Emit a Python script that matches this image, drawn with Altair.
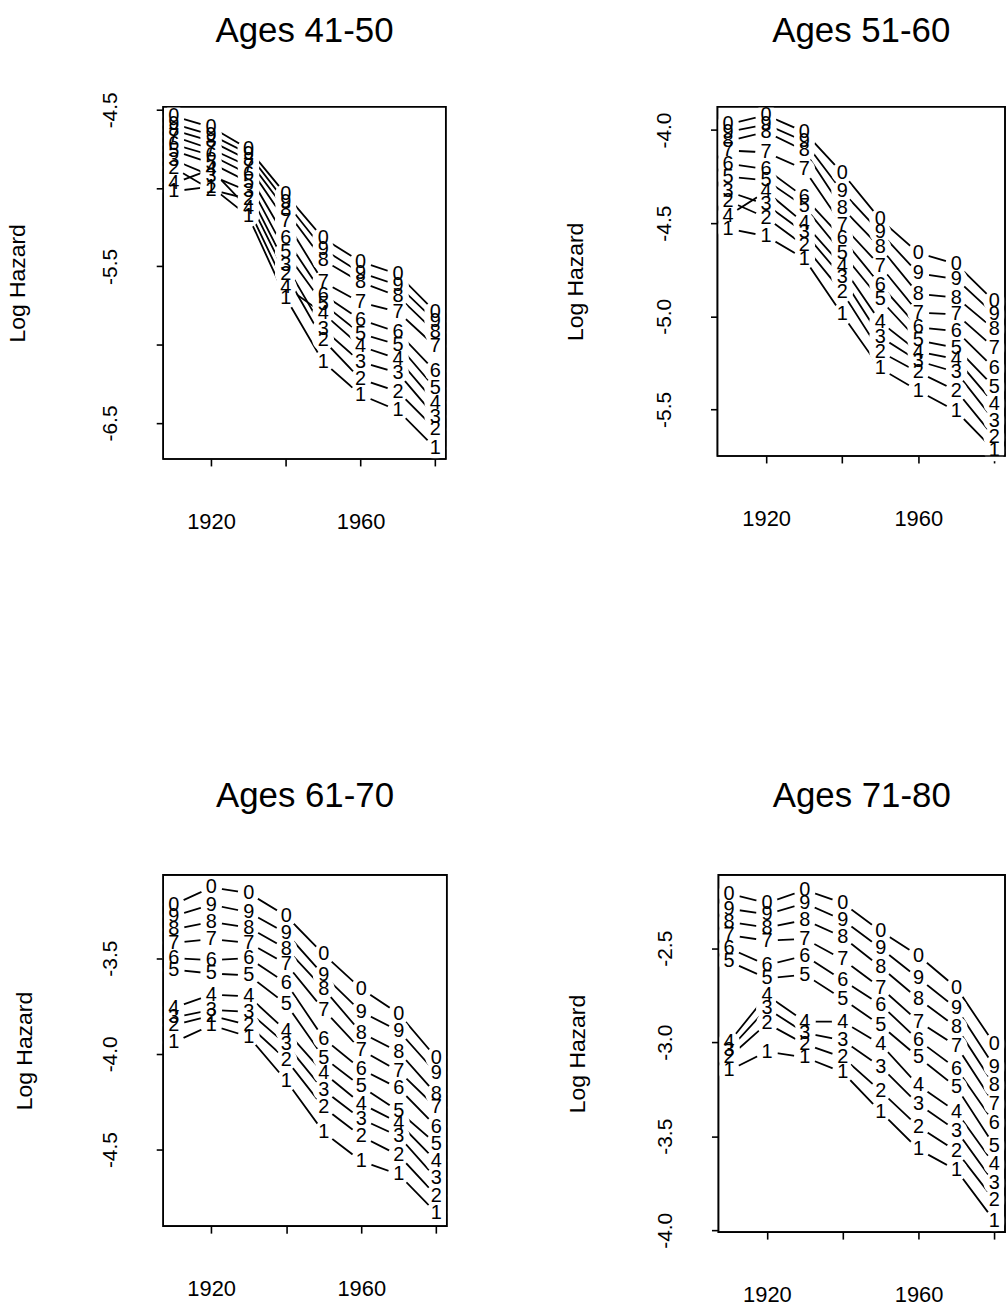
import altair as alt
import pandas as pd

FONT = "Liberation Sans"

years = [1910, 1920, 1930, 1940, 1950, 1960, 1970, 1980]

# ---- Ages 41-50 (digit = last digit of age) ----
p1_age41 = [-5.02, -4.99, -5.18, -5.70, -6.11, -6.32, -6.42, -6.66]
p1_age42 = [-4.87, -5.01, -5.07, -5.55, -5.97, -6.22, -6.30, -6.54]
p1_age43 = [-4.82, -4.92, -5.02, -5.49, -5.90, -6.11, -6.18, -6.46]
p1_age44 = [-4.97, -4.88, -5.13, -5.63, -5.80, -6.01, -6.09, -6.37]
p1_age45 = [-4.76, -4.84, -4.96, -5.41, -5.74, -5.93, -6.00, -6.28]
p1_age46 = [-4.72, -4.79, -4.91, -5.32, -5.68, -5.84, -5.92, -6.17]
p1_age47 = [-4.67, -4.75, -4.86, -5.21, -5.60, -5.73, -5.79, -6.01]
p1_age48 = [-4.63, -4.70, -4.82, -5.14, -5.46, -5.60, -5.69, -5.92]
p1_age49 = [-4.59, -4.66, -4.78, -5.09, -5.39, -5.54, -5.62, -5.85]
p1_age50 = [-4.54, -4.61, -4.75, -5.04, -5.32, -5.47, -5.55, -5.79]

# ---- Ages 51-60 ----
p2_age51 = [-4.53, -4.57, -4.69, -4.99, -5.28, -5.40, -5.51, -5.72]
p2_age52 = [-4.38, -4.47, -4.62, -4.87, -5.19, -5.30, -5.40, -5.65]
p2_age53 = [-4.33, -4.40, -4.55, -4.79, -5.11, -5.24, -5.30, -5.56]
p2_age54 = [-4.46, -4.33, -4.50, -4.73, -5.03, -5.19, -5.23, -5.47]
p2_age55 = [-4.25, -4.27, -4.41, -4.66, -4.91, -5.13, -5.17, -5.38]
p2_age56 = [-4.18, -4.21, -4.36, -4.58, -4.83, -5.06, -5.08, -5.28]
p2_age57 = [-4.11, -4.12, -4.21, -4.51, -4.73, -4.98, -4.99, -5.17]
p2_age58 = [-4.06, -4.01, -4.11, -4.42, -4.63, -4.88, -4.90, -5.07]
p2_age59 = [-4.01, -3.97, -4.06, -4.33, -4.55, -4.77, -4.80, -4.99]
p2_age60 = [-3.97, -3.92, -4.01, -4.23, -4.48, -4.66, -4.72, -4.92]

# ---- Ages 61-70 ----
p3_age61 = [-3.94, -3.85, -3.91, -4.14, -4.41, -4.56, -4.63, -4.83]
p3_age62 = [-3.85, -3.80, -3.85, -4.03, -4.28, -4.43, -4.53, -4.74]
p3_age63 = [-3.81, -3.77, -3.78, -3.95, -4.19, -4.34, -4.43, -4.65]
p3_age64 = [-3.76, -3.69, -3.70, -3.88, -4.10, -4.26, -4.36, -4.56]
p3_age65 = [-3.56, -3.58, -3.59, -3.74, -4.02, -4.17, -4.30, -4.47]
p3_age66 = [-3.50, -3.51, -3.50, -3.63, -3.92, -4.08, -4.18, -4.38]
p3_age67 = [-3.42, -3.40, -3.42, -3.53, -3.77, -3.98, -4.09, -4.28]
p3_age68 = [-3.35, -3.31, -3.34, -3.45, -3.66, -3.89, -3.99, -4.21]
p3_age69 = [-3.28, -3.22, -3.26, -3.37, -3.59, -3.78, -3.88, -4.10]
p3_age70 = [-3.22, -3.13, -3.16, -3.28, -3.48, -3.66, -3.79, -4.02]

# ---- Ages 71-80 ----
p4_age71 = [-3.15, -3.05, -3.08, -3.16, -3.37, -3.57, -3.68, -3.95]
p4_age72 = [-3.08, -2.90, -3.01, -3.08, -3.26, -3.45, -3.58, -3.84]
p4_age73 = [-3.04, -2.82, -2.95, -2.99, -3.13, -3.33, -3.47, -3.75]
p4_age74 = [-3.00, -2.75, -2.89, -2.89, -3.01, -3.23, -3.37, -3.65]
p4_age75 = [-2.57, -2.66, -2.64, -2.77, -2.91, -3.08, -3.24, -3.55]
p4_age76 = [-2.50, -2.59, -2.54, -2.67, -2.80, -2.99, -3.14, -3.43]
p4_age77 = [-2.43, -2.46, -2.45, -2.56, -2.71, -2.89, -3.02, -3.33]
p4_age78 = [-2.36, -2.39, -2.35, -2.44, -2.60, -2.77, -2.92, -3.23]
p4_age79 = [-2.29, -2.32, -2.26, -2.35, -2.50, -2.66, -2.82, -3.13]
p4_age80 = [-2.21, -2.26, -2.19, -2.26, -2.41, -2.54, -2.71, -3.01]

x_tick_values = [1920, 1940, 1960, 1980]
x_tick_labeled = [1920, 1960]


def make_df(first_age, series):
    rows = []
    for k, vals in enumerate(series):
        age = first_age + k
        for yr, v in zip(years, vals):
            rows.append({"year": yr, "value": v, "age": age, "digit": str(age % 10)})
    return pd.DataFrame(rows)


def panel(df, title, ydomain, yticks, ylabeled, width, height, title_x, title_offset):
    lab_list = ",".join(str(v) for v in ylabeled)
    ylabel_expr = (
        "indexof([" + lab_list + "], datum.value) >= 0 ? "
        "replace(format(datum.value, '.1f'), '\u2212', '-') : ''"
    )
    xlabel_expr = (
        "indexof([" + ",".join(str(v) for v in x_tick_labeled) + "], datum.value) >= 0 ? "
        "format(datum.value, 'd') : ''"
    )
    x = alt.X(
        "year:Q",
        scale=alt.Scale(domain=[1907.2, 1982.8], nice=False, zero=False),
        axis=alt.Axis(
            values=x_tick_values,
            labelExpr=xlabel_expr,
            title=None,
            grid=False,
            domain=False,
            ticks=True,
            tickSize=7,
            tickWidth=1.6,
            tickColor="black",
            labelFont=FONT,
            labelFontSize=22,
            labelColor="black",
            labelBaseline="middle",
            labelPadding=56,
        ),
    )
    y = alt.Y(
        "value:Q",
        scale=alt.Scale(domain=ydomain, nice=False, zero=False),
        axis=alt.Axis(
            values=yticks,
            labelExpr=ylabel_expr,
            title="Log Hazard",
            titleFont=FONT,
            titleFontSize=23,
            titleFontWeight="normal",
            titleColor="black",
            titleAngle=270,
            titleAlign="center",
            titleBaseline="middle",
            titleX=title_x,
            titleY=height / 2,
            grid=False,
            domain=False,
            tickSize=7,
            tickWidth=1.6,
            tickColor="black",
            labelFont=FONT,
            labelFontSize=21,
            labelColor="black",
            labelAngle=270,
            labelAlign="center",
            labelBaseline="middle",
            labelPadding=46,
        ),
    )
    base = alt.Chart(df)
    lines = base.mark_line(color="black", strokeWidth=1.8).encode(x=x, y=y, detail="age:N")
    erase = base.mark_point(
        filled=True, shape="circle", color="white", opacity=1, size=480, strokeWidth=0
    ).encode(x=x, y=y)
    frame = (
        alt.Chart(pd.DataFrame({"f": [0]}))
        .mark_rect(fillOpacity=0, stroke="black", strokeWidth=1.6)
        .encode(x=alt.value(0), x2=alt.value(width), y=alt.value(0), y2=alt.value(height))
    )
    text = base.mark_text(
        font=FONT, fontSize=20, color="black", align="center", baseline="middle"
    ).encode(x=x, y=y, text="digit:N")
    return alt.layer(lines, erase, frame, text).properties(
        width=width,
        height=height,
        title=alt.TitleParams(
            text=title,
            font=FONT,
            fontSize=35,
            fontWeight="normal",
            color="black",
            anchor="middle",
            frame="group",
            offset=title_offset,
        ),
    )


df1 = make_df(41, [p1_age41, p1_age42, p1_age43, p1_age44, p1_age45,
                   p1_age46, p1_age47, p1_age48, p1_age49, p1_age50])
df2 = make_df(51, [p2_age51, p2_age52, p2_age53, p2_age54, p2_age55,
                   p2_age56, p2_age57, p2_age58, p2_age59, p2_age60])
df3 = make_df(61, [p3_age61, p3_age62, p3_age63, p3_age64, p3_age65,
                   p3_age66, p3_age67, p3_age68, p3_age69, p3_age70])
df4 = make_df(71, [p4_age71, p4_age72, p4_age73, p4_age74, p4_age75,
                   p4_age76, p4_age77, p4_age78, p4_age79, p4_age80])

c1 = panel(df1, "Ages 41-50", [-6.73, -4.48], [-6.5, -6.0, -5.5, -5.0, -4.5],
           [-6.5, -5.5, -4.5], 284, 354, -146, 43)
c2 = panel(df2, "Ages 51-60", [-5.75, -3.875], [-5.5, -5.0, -4.5, -4.0],
           [-5.5, -5.0, -4.5, -4.0], 289, 351, -143, 56)
c3 = panel(df3, "Ages 61-70", [-4.90, -3.065], [-4.5, -4.0, -3.5],
           [-4.5, -4.0, -3.5], 285, 353, -139, 60)
c4 = panel(df4, "Ages 71-80", [-4.01, -2.11], [-4.0, -3.5, -3.0, -2.5],
           [-4.0, -3.5, -3.0, -2.5], 288, 359, -142, 60)

row1 = alt.hconcat(c1, c2, spacing=116)
row2 = alt.hconcat(c3, c4, spacing=117)

chart = (
    alt.vconcat(row1, row2, spacing=246)
    .properties(padding={"left": 6, "top": 9, "right": 0, "bottom": 0}, background="white")
    .configure_view(stroke="black", strokeWidth=1.6)
)

chart.save("out.html", embed_options={"renderer": "svg", "actions": False})
